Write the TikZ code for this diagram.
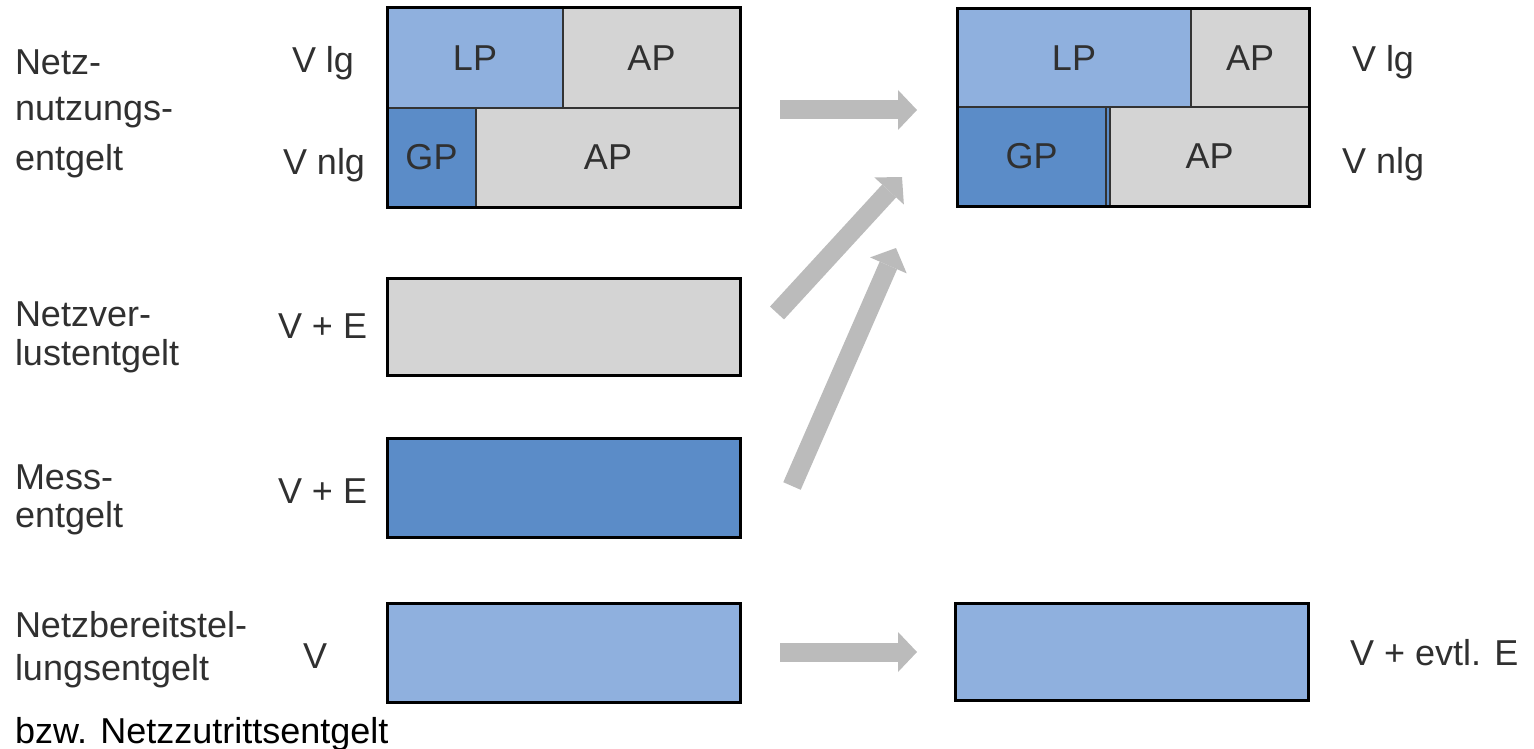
\documentclass[tikz,border=0pt]{standalone}
\usepackage{fontspec}
\setmainfont{Liberation Sans}
\usetikzlibrary{arrows.meta}
\definecolor{lpblue}{HTML}{8FB0DE}
\definecolor{gpblue}{HTML}{5B8CC8}
\definecolor{cellgray}{HTML}{D4D4D4}
\definecolor{arrowgray}{HTML}{BBBBBB}
\definecolor{txt}{HTML}{303030}
\definecolor{darkline}{HTML}{333333}
\begin{document}
\begin{tikzpicture}[x=1pt,y=-1pt,
  every node/.style={font=\fontsize{36}{43}\selectfont, text=txt, inner sep=0pt, outer sep=0pt},
  cell/.style={draw=darkline, line width=1.5pt, anchor=north west},
  frame/.style={draw=black, line width=3pt, anchor=north west},
  lbl/.style={anchor=base west},
  bigarrow/.style={draw=arrowgray, line width=19pt,
    -{Triangle[length=19pt,width=40pt,line width=0pt]}}
]
\useasboundingbox (0,0) rectangle (1534,749);

% ---------- left column boxes ----------
\node[cell, fill=lpblue,   minimum width=176pt, minimum height=100pt] (lLP)  at (387,8)   {LP};
\node[cell, fill=cellgray, minimum width=177pt, minimum height=100pt] (lAP1) at (563,8)   {AP};
\node[cell, fill=gpblue,   minimum width=89pt,  minimum height=99pt]  (lGP)  at (387,108) {GP};
\node[cell, fill=cellgray, minimum width=264pt, minimum height=99pt]  (lAP2) at (476,108) {AP};
\node[frame, minimum width=353pt, minimum height=199pt] (lNN) at (387,8) {};

\node[frame, fill=cellgray, minimum width=353pt, minimum height=97pt] (lNV) at (387,278) {};
\node[frame, fill=gpblue,   minimum width=353pt, minimum height=99pt] (lME) at (387,438) {};
\node[frame, fill=lpblue,   minimum width=353pt, minimum height=99pt] (lNB) at (387,603) {};

% ---------- right column boxes ----------
\node[cell, fill=lpblue,   minimum width=234pt, minimum height=98pt] (rLP)  at (957,9)   {LP};
\node[cell, fill=cellgray, minimum width=118pt, minimum height=98pt] (rAP1) at (1191,9)  {AP};
\node[cell, fill=gpblue,   minimum width=153pt, minimum height=99pt] (rGP)  at (957,107) {\hspace*{-4pt}GP};
\node[cell, fill=cellgray, minimum width=199pt, minimum height=99pt] (rAP2) at (1110,107) {AP};
\draw[darkline, line width=1.5pt] (rGP.north west -| 1106,0) ++(0,1) coordinate (rs1) -- (rs1 |- rGP.south) coordinate (rs2);
\node[frame, minimum width=352pt, minimum height=197pt] (rNN) at (957,9) {};

\node[frame, fill=lpblue, minimum width=353pt, minimum height=97pt] (rNB) at (955,603) {};

% ---------- left labels ----------
\node[lbl] (t1a) at (15,75)  {Netz-};
\node[lbl] (t1b) at (15,121) {nutzungs-};
\node[lbl] (t1c) at (15,170) {entgelt};
\node[lbl] (t2a) at (15,326) {Netzver-};
\node[lbl] (t2b) at (15,365) {lustentgelt};
\node[lbl] (t3a) at (15,489) {Mess-};
\node[lbl] (t3b) at (15,527) {entgelt};
\node[lbl] (t4a) at (15,637) {Netzbereitstel-};
\node[lbl] (t4b) at (15,680) {lungsentgelt};
\node[lbl, text=black] (t4c) at (15,743) {bzw. Netzzutrittsentgelt};

\node[lbl] (v1) at (292,73)  {V lg};
\node[lbl] (v2) at (283,175) {V nlg};
\node[lbl] (v3) at (278,338) {V + E};
\node[lbl] (v4) at (278,503) {V + E};
\node[lbl] (v5) at (303,668) {V};

% ---------- right labels ----------
\node[lbl] (w1) at (1352,72)  {V lg};
\node[lbl] (w2) at (1342,173) {V nlg};
\node[lbl] (w3) at (1350,665) {V + evtl. E};

% ---------- arrows ----------
\coordinate (a1s) at (780,110);
\coordinate (a1e) at (917,110);
\coordinate (a2s) at (777,313);
\coordinate (a2e) at (902,177);
\coordinate (a3s) at (792,486);
\coordinate (a3e) at (896,248);
\coordinate (a4s) at (780,652);
\coordinate (a4e) at (917,652);
\draw[bigarrow] (a1s) -- (a1e);
\draw[bigarrow] (a2s) -- (a2e);
\draw[bigarrow] (a3s) -- (a3e);
\draw[bigarrow] (a4s) -- (a4e);
\end{tikzpicture}
\end{document}
